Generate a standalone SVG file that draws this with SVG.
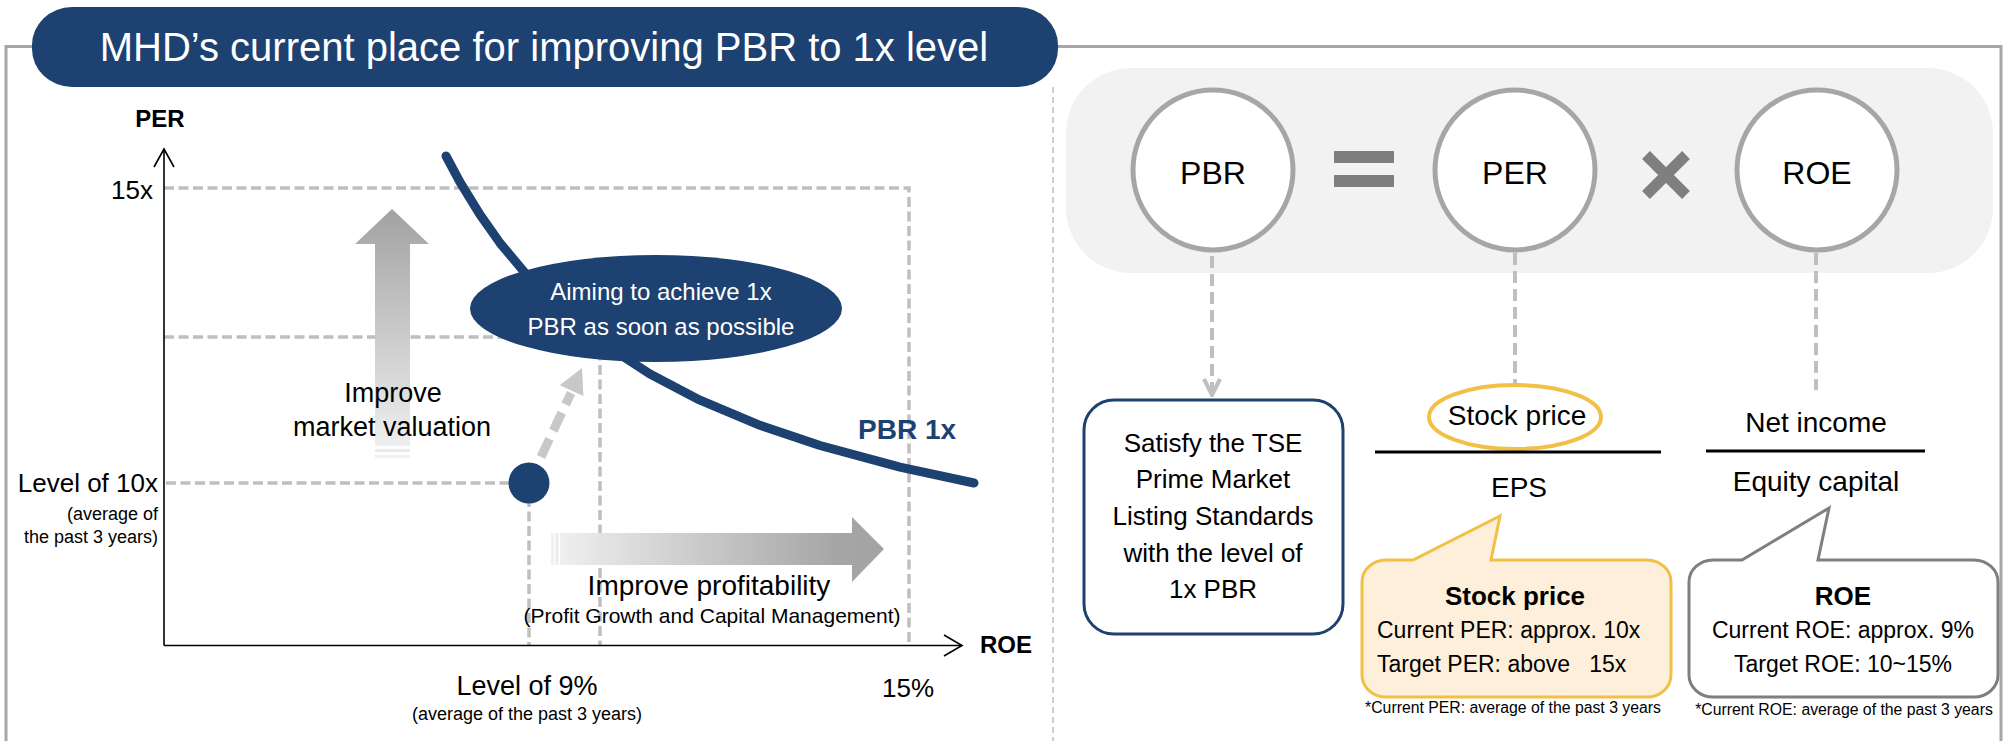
<svg xmlns="http://www.w3.org/2000/svg" width="2011" height="741" viewBox="0 0 2011 741">
<style>
text{font-family:"Liberation Sans",Arial,sans-serif;fill:#000}
.c{text-anchor:middle}
.r{text-anchor:end}
.b{font-weight:bold}
.dash{fill:none;stroke:#bfbfbf;stroke-width:3.5;stroke-dasharray:10 4.5}
.ax{fill:none;stroke:#000;stroke-width:1.6}
.circ{fill:#fff;stroke:#a6a6a6;stroke-width:5}
.cdash{fill:none;stroke:#bfbfbf;stroke-width:4;stroke-dasharray:12 6}
.frac{stroke:#000;stroke-width:3}
</style>
<defs>
<linearGradient id="gUp" x1="0" y1="0" x2="0" y2="1">
<stop offset="0" stop-color="#a2a2a2"/><stop offset="1" stop-color="#efefef"/>
</linearGradient>
<linearGradient id="gRight" x1="0" y1="0" x2="1" y2="0">
<stop offset="0" stop-color="#efefef"/><stop offset="0.85" stop-color="#a6a6a6"/><stop offset="1" stop-color="#a3a3a3"/>
</linearGradient>
<marker id="openArr" viewBox="0 0 20 20" refX="18" refY="10" markerWidth="20" markerHeight="20" markerUnits="userSpaceOnUse" orient="auto">
<path d="M2,2 L18,10 L2,18" fill="none" stroke="#bfbfbf" stroke-width="4"/>
</marker>
</defs>

<g id="frame">
<path d="M6,741 V46.5 H2001 V741" fill="none" stroke="#a6a6a6" stroke-width="3"/>
<line x1="1053" y1="87" x2="1053" y2="741" stroke="#bfbfbf" stroke-width="1.5" stroke-dasharray="6 4"/>
</g>

<g id="title">
<rect x="32" y="7" width="1026" height="80" rx="40" ry="38" fill="#1d4170"/>
<text x="544" y="61" class="c" style="font-size:40px;fill:#fff">MHD’s current place for improving PBR to 1x level</text>
</g>

<g id="chart">
<g id="guides">
<path class="dash" d="M164,188 H909 V645"/>
<path class="dash" d="M164,337 H600 V645"/>
<path class="dash" d="M166,483 H529 V645"/>
</g>
<g id="axes">
<line class="ax" x1="164" y1="150" x2="164" y2="645.5"/>
<line class="ax" x1="164" y1="645.5" x2="962" y2="645.5"/>
<path class="ax" d="M154,167 L164,149 L174,167"/>
<path class="ax" d="M944,635 L962,645.5 L944,656"/>
<text x="160" y="127" class="c b" style="font-size:24px">PER</text>
<text x="980" y="653" class="b" style="font-size:24px">ROE</text>
<text x="153" y="199" class="r" style="font-size:26px">15x</text>
<text x="158" y="492" class="r" style="font-size:26px">Level of 10x</text>
<text x="158" y="520" class="r" style="font-size:18px">(average of</text>
<text x="158" y="543" class="r" style="font-size:18px">the past 3 years)</text>
<text x="527" y="695" class="c" style="font-size:27px">Level of 9%</text>
<text x="527" y="720" class="c" style="font-size:18px">(average of the past 3 years)</text>
<text x="908" y="697" class="c" style="font-size:26px">15%</text>
</g>
<g id="upArrow">
<path d="M392,209 L429,244 L410,244 L410,446 L375,446 L375,244 L355,244 Z" fill="url(#gUp)"/>
<rect x="375" y="449" width="35" height="3" fill="#ebebeb"/>
<rect x="375" y="455" width="35" height="3" fill="#f1f1f1"/>
<text x="393" y="402" class="c" style="font-size:27px">Improve</text>
<text x="392" y="436" class="c" style="font-size:27px">market valuation</text>
</g>
<g id="rightArrow">
<rect x="551" y="533" width="3" height="32" fill="#f0f0f0"/>
<rect x="555.5" y="533" width="3" height="32" fill="#ececec"/>
<path d="M560,533 L852,533 L852,517 L884,549 L852,582 L852,565 L560,565 Z" fill="url(#gRight)"/>
<text x="709" y="595" class="c" style="font-size:28px">Improve profitability</text>
<text x="712" y="623" class="c" style="font-size:21px">(Profit Growth and Capital Management)</text>
</g>
<g id="moveArrow">
<line x1="541" y1="457" x2="571" y2="393" stroke="#c8c8c8" stroke-width="9" stroke-dasharray="20 9"/>
<path d="M582,368 L583.4,396.1 L559.8,385.3 Z" fill="#c8c8c8"/>
</g>
<g id="pbrCurve">
<polyline points="446,156 460,182.1 480,214.7 500,243 530,278.9 560,308.7 600,341.5 650,374.1 700,400.2 760,425.3 820,445.5 900,467.1 974,483" fill="none" stroke="#1d4170" stroke-width="9" stroke-linecap="round" stroke-linejoin="round"/>
<text x="858" y="439" class="b" style="font-size:28px;fill:#1d4170">PBR 1x</text>
</g>
<g id="aimBubble">
<ellipse cx="656" cy="308.5" rx="186" ry="53.5" fill="#1d4170"/>
<text x="661" y="300" class="c" style="font-size:24px;fill:#fff">Aiming to achieve 1x</text>
<text x="661" y="335" class="c" style="font-size:24px;fill:#fff">PBR as soon as possible</text>
</g>
<g id="currentDot">
<circle cx="529" cy="483" r="20.5" fill="#1d4170"/>
</g>
</g>

<g id="formula">
<rect x="1066" y="68" width="927" height="205" rx="65" fill="#f2f2f2"/>
<g id="nodePBR">
<circle class="circ" cx="1213" cy="170" r="80"/>
<text x="1213" y="184" class="c" style="font-size:32px">PBR</text>
</g>
<g id="opEqual">
<rect x="1334" y="151" width="60" height="12" fill="#7f7f7f"/>
<rect x="1334" y="175" width="60" height="12" fill="#7f7f7f"/>
</g>
<g id="nodePER">
<circle class="circ" cx="1515" cy="170" r="80"/>
<text x="1515" y="184" class="c" style="font-size:32px">PER</text>
</g>
<g id="opTimes">
<path d="M1646,155 L1686,195 M1686,155 L1646,195" stroke="#7f7f7f" stroke-width="11"/>
</g>
<g id="nodeROE">
<circle class="circ" cx="1817" cy="170" r="80"/>
<text x="1817" y="184" class="c" style="font-size:32px">ROE</text>
</g>
</g>

<g id="connectors">
<line class="cdash" x1="1212" y1="256" x2="1212" y2="395" marker-end="url(#openArr)"/>
<line class="cdash" x1="1515" y1="253" x2="1515" y2="383"/>
<line class="cdash" x1="1816" y1="253" x2="1816" y2="390"/>
</g>

<g id="tseBox">
<rect x="1084" y="400" width="259" height="234" rx="30" fill="#fff" stroke="#1d4170" stroke-width="3"/>
<text x="1213" y="452" class="c" style="font-size:26px">Satisfy the TSE</text>
<text x="1213" y="488" class="c" style="font-size:26px">Prime Market</text>
<text x="1213" y="525" class="c" style="font-size:26px">Listing Standards</text>
<text x="1213" y="562" class="c" style="font-size:26px">with the level of</text>
<text x="1213" y="598" class="c" style="font-size:26px">1x PBR</text>
</g>

<g id="perFraction">
<ellipse cx="1515" cy="417" rx="86" ry="32" fill="#fff" stroke="#f2bf47" stroke-width="4"/>
<text x="1517" y="425" class="c" style="font-size:28px">Stock price</text>
<line class="frac" x1="1375" y1="452" x2="1661" y2="452"/>
<text x="1519" y="497" class="c" style="font-size:28px">EPS</text>
</g>

<g id="roeFraction">
<text x="1816" y="432" class="c" style="font-size:28px">Net income</text>
<line class="frac" x1="1706" y1="451" x2="1925" y2="451"/>
<text x="1816" y="491" class="c" style="font-size:28px">Equity capital</text>
</g>

<g id="stockCallout">
<path d="M1386,560 L1413,560 L1500,516 L1491,560 L1647,560 A24,22 0 0 1 1671,582 L1671,675 A24,22 0 0 1 1647,697 L1386,697 A24,22 0 0 1 1362,675 L1362,582 A24,22 0 0 1 1386,560 Z" fill="#fdefda" stroke="#f2bf47" stroke-width="3"/>
<text x="1515" y="605" class="c b" style="font-size:26px">Stock price</text>
<text x="1377" y="638" style="font-size:23px">Current PER: approx. 10x</text>
<text x="1377" y="672" style="font-size:23px" xml:space="preserve">Target PER: above   15x</text>
<text x="1513" y="713" class="c" style="font-size:15.8px">*Current PER: average of the past 3 years</text>
</g>

<g id="roeCallout">
<path d="M1713,560 L1742,560 L1829,508 L1818,560 L1974,560 A24,22 0 0 1 1998,582 L1998,675 A24,22 0 0 1 1974,697 L1713,697 A24,22 0 0 1 1689,675 L1689,582 A24,22 0 0 1 1713,560 Z" fill="#fff" stroke="#7f7f7f" stroke-width="3"/>
<text x="1843" y="605" class="c b" style="font-size:26px">ROE</text>
<text x="1843" y="638" class="c" style="font-size:23px">Current ROE: approx. 9%</text>
<text x="1843" y="672" class="c" style="font-size:23px">Target ROE: 10~15%</text>
<text x="1844" y="715" class="c" style="font-size:15.8px">*Current ROE: average of the past 3 years</text>
</g>
</svg>
